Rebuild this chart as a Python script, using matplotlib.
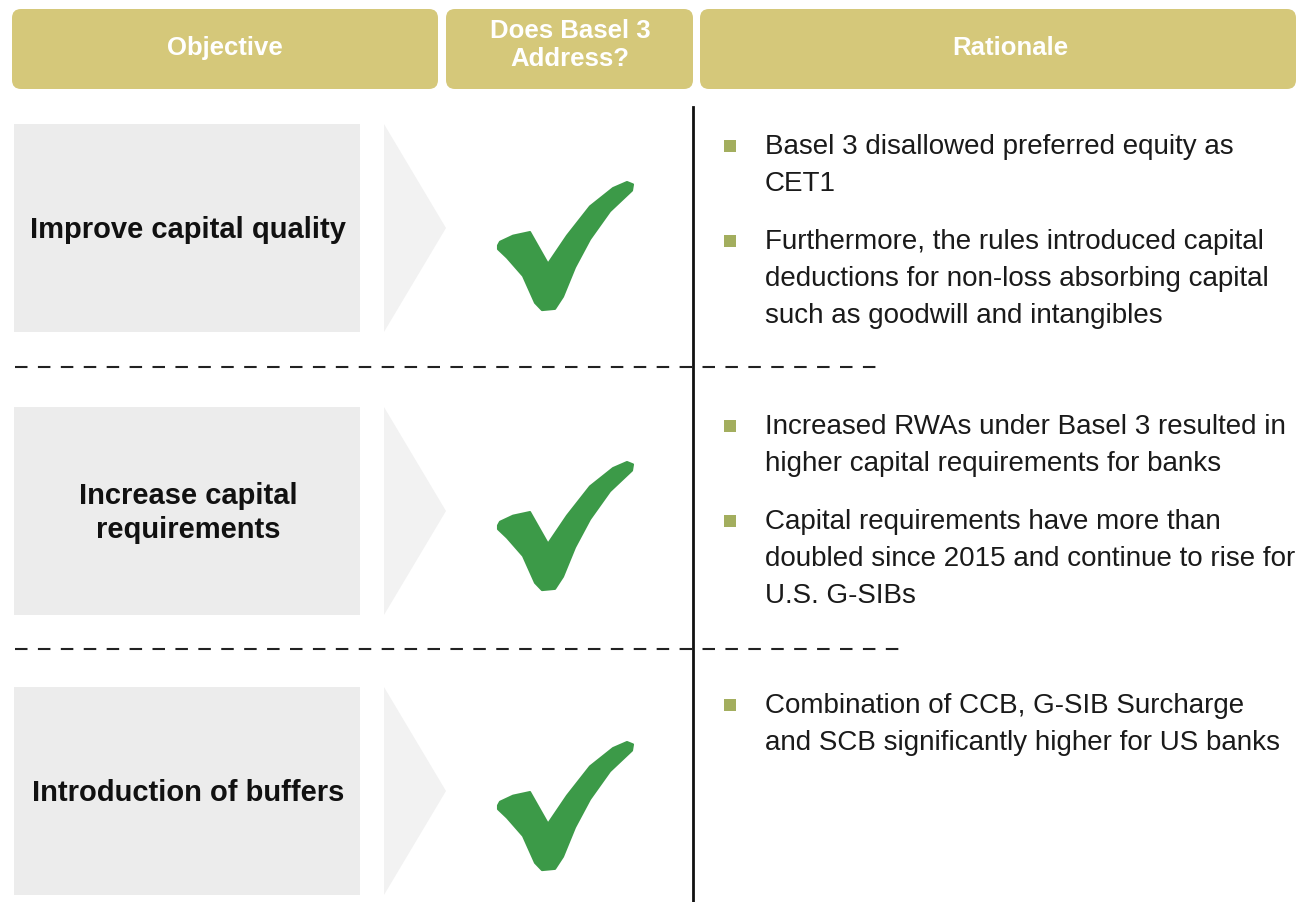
import matplotlib
matplotlib.use("Agg")
import matplotlib.pyplot as plt
from matplotlib.patches import FancyBboxPatch, Rectangle, Polygon

plt.rcParams['font.family'] = ['Liberation Sans', 'DejaVu Sans']

headers = ["Objective", "Does Basel 3\nAddress?", "Rationale"]
objectives = ["Improve capital quality", "Increase capital\nrequirements", "Introduction of buffers"]
addressed = [True, True, True]
rationale = [
    ["Basel 3 disallowed preferred equity as\nCET1",
     "Furthermore, the rules introduced capital\ndeductions for non-loss absorbing capital\nsuch as goodwill and intangibles"],
    ["Increased RWAs under Basel 3 resulted in\nhigher capital requirements for banks",
     "Capital requirements have more than\ndoubled since 2015 and continue to rise for\nU.S. G-SIBs"],
    ["Combination of CCB, G-SIB Surcharge\nand SCB significantly higher for US banks"],
]

W, H = 1296, 903
fig = plt.figure(figsize=(W / 100, H / 100), dpi=100)
ax = fig.add_axes([0, 0, 1, 1])
ax.set_xlim(0, W)
ax.set_ylim(H, 0)
ax.axis("off")

hdr_col = "#D5C87A"
hdr_boxes = [(12, 438), (446, 693), (700, 1296)]
hdr_cx = [225, 570, 1010]
hdr_cy = [48, 45, 48]
for (x0, x1), cx, cy, t in zip(hdr_boxes, hdr_cx, hdr_cy, headers):
    ax.add_patch(FancyBboxPatch((x0, 10), x1 - x0, 80,
                                boxstyle="round,pad=0,rounding_size=9",
                                fc=hdr_col, ec="none"))
    ax.text(cx, cy, t, ha="center", va="center", color="white",
            fontsize=18.5, fontweight="bold", linespacing=1.2)

row_top = [125, 408, 688]
row_h = 208
check_off = [0, 280, 560]
bullet_y0 = [147, 427, 706]
line_h = 37
para_gap = 21
bullet_col = "#A3AE5E"

base_check = [(498, 235), (500, 232), (513, 227), (530, 224), (548, 250),
              (567, 227), (590, 203), (613, 188), (627, 183), (633, 185),
              (632, 190), (610, 207), (590, 230), (575, 253), (563, 277),
              (555, 287), (542, 288), (535, 282), (523, 260), (507, 245),
              (498, 238)]

for i, obj in enumerate(objectives):
    top = row_top[i]
    ax.add_patch(Rectangle((14, top), 346, row_h, fc="#ECECEC", ec="none"))
    ax.add_patch(Polygon([(384, top), (446, top + row_h / 2), (384, top + row_h)],
                         closed=True, fc="#F2F2F2", ec="none"))
    ax.text(188, top + row_h / 2 + 1, obj, ha="center", va="center",
            fontsize=21, fontweight="bold", color="#111111", linespacing=1.25)
    if addressed[i]:
        pts = [(x, 183 + (y - 183) * 1.22 + check_off[i]) for x, y in base_check]
        ax.add_patch(Polygon(pts, closed=True, fc="#3C9A48", ec="#3C9A48",
                             lw=1.5, joinstyle="round"))
    y = bullet_y0[i]
    for para in rationale[i]:
        nlines = para.count("\n") + 1
        ax.add_patch(Rectangle((724, y - 6), 12, 12, fc=bullet_col, ec="none"))
        for k, line in enumerate(para.split("\n")):
            ax.text(765, y + k * line_h, line, ha="left", va="center",
                    fontsize=20, color="#1A1A1A")
        y += nlines * line_h + para_gap
# separators
ax.plot([15, 880], [368, 368], color="#222222", lw=1.5, dashes=(6, 5))
ax.plot([15, 900], [650, 650], color="#222222", lw=1.5, dashes=(6, 5))
ax.plot([693, 693], [108, 903], color="#111111", lw=2)

fig.savefig("out.png", dpi=100, facecolor="white")
